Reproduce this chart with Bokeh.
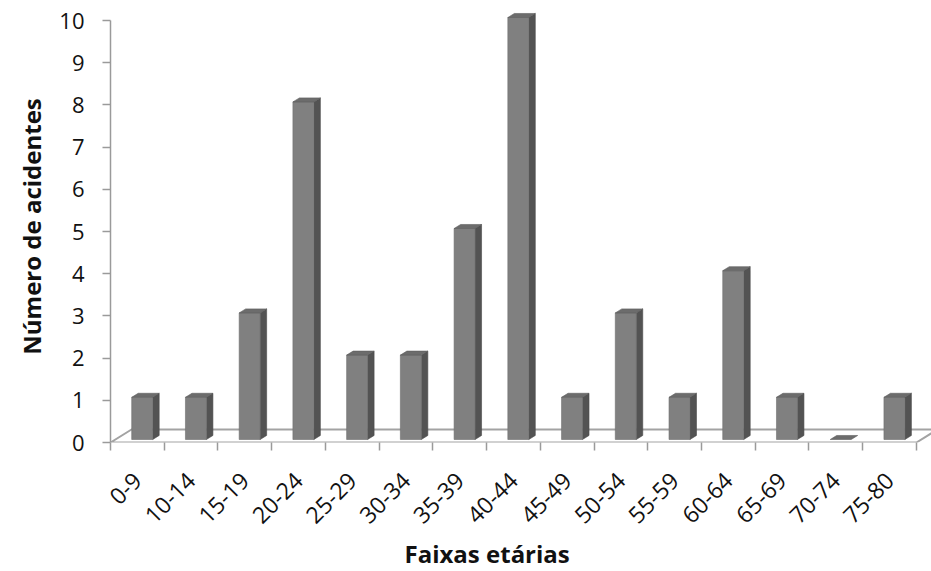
from bokeh.plotting import figure
from bokeh.models import FixedTicker, Range1d, Title
from bokeh.embed import file_html
from bokeh.resources import INLINE
import math

# ---- data ----
categories = ["0-9", "10-14", "15-19", "20-24", "25-29", "30-34", "35-39", "40-44",
              "45-49", "50-54", "55-59", "60-64", "65-69", "70-74", "75-80"]
accidents = [1, 1, 3, 8, 2, 2, 5, 10, 1, 3, 1, 4, 1, 0, 1]
y_ticks = [0, 1, 2, 3, 4, 5, 6, 7, 8, 9, 10]
x_title = "Faixas etárias"
y_title = "Número de acidentes"

FONT = "Open Sans"
n = len(categories)

# pixel geometry
W, H = 931, 571
left_b, right_b, top_b, bottom_b = 110, 0, 10, 129
frame_w = W - left_b - right_b
frame_h = H - top_b - bottom_b
sx = 53.73   # px per category
sy = 42.2    # px per unit

p = figure(width=W, height=H, output_backend="svg", toolbar_location=None,
           x_range=Range1d(0, frame_w / sx), y_range=Range1d(0, frame_h / sy),
           min_border_left=left_b, min_border_right=right_b,
           min_border_top=top_b, min_border_bottom=bottom_b)
p.outline_line_color = None
p.xgrid.visible = False
p.ygrid.visible = False
p.background_fill_color = "white"

# 3D depth (data units per full floor depth)
ddx = 21 / sx
ddy = 13 / sy
d_f, d_b = 0.23, 0.54
hw = 0.195

# floor
floor_x = [0, n, n + ddx, ddx]
floor_y = [0, 0, ddy, ddy]
p.patch(floor_x, floor_y, fill_color="white", line_color="#a3a3a3", line_width=2)

front_xs, front_ys, side_xs, side_ys, top_xs, top_ys = [], [], [], [], [], []
ox = (d_b - d_f) * ddx
oy = (d_b - d_f) * ddy
for i, v in enumerate(accidents):
    cx = i + 0.5 + d_f * ddx
    y0 = d_f * ddy
    y1 = v + y0
    xl, xr = cx - hw, cx + hw
    if v > 0:
        front_xs.append([xl, xr, xr, xl]); front_ys.append([y0, y0, y1, y1])
        side_xs.append([xr, xr + ox, xr + ox, xr]); side_ys.append([y0, y0 + oy, y1 + oy, y1])
    top_xs.append([xl, xr, xr + ox, xl + ox]); top_ys.append([y1, y1, y1 + oy, y1 + oy])

p.patches(side_xs, side_ys, fill_color="#535353", line_color="#4a4a4a", line_width=0.6)
p.patches(front_xs, front_ys, fill_color="#808080", line_color="#6e6e6e", line_width=0.6)
p.patches(top_xs, top_ys, fill_color="#6c6c6c", line_color="#5e5e5e", line_width=0.6)

# x axis
xax = p.xaxis[0]
centers = [i + 0.5 for i in range(n)]
xax.ticker = FixedTicker(ticks=centers, minor_ticks=list(range(n + 1)))
xax.major_label_overrides = {c: lab for c, lab in zip(centers, categories)}
xax.major_label_orientation = math.pi / 4
xax.major_tick_out = 0
xax.major_tick_in = 0
xax.minor_tick_out = 8
xax.minor_tick_in = 0
xax.minor_tick_line_color = "#9a9a9a"
xax.minor_tick_line_width = 1.5
xax.axis_line_color = None
xax.major_label_standoff = 26
xax.major_label_text_font = FONT
xax.major_label_text_font_size = "23px"
xax.major_label_text_color = "#111111"

# x title below the axis, placed as in the source
p.add_layout(Title(text=x_title, align="left", offset=294, standoff=2,
                   text_font=FONT, text_font_style="bold", text_font_size="24px",
                   text_color="#111111"), "below")

# y axis
yax = p.yaxis[0]
yax.ticker = FixedTicker(ticks=y_ticks, minor_ticks=[])
yax.bounds = (0, 10)
yax.axis_line_color = "#9a9a9a"
yax.axis_line_width = 1.5
yax.major_tick_line_color = "#9a9a9a"
yax.major_tick_line_width = 1.5
yax.major_tick_out = 8
yax.major_tick_in = 0
yax.major_label_standoff = 18
yax.major_label_text_font = FONT
yax.major_label_text_font_size = "22px"
yax.major_label_text_color = "#111111"
yax.axis_label = y_title
yax.axis_label_text_font = FONT
yax.axis_label_text_font_style = "bold"
yax.axis_label_text_font_size = "24px"
yax.axis_label_text_color = "#111111"
yax.axis_label_standoff = 8

open("out.html", "w").write(file_html(p, INLINE))
